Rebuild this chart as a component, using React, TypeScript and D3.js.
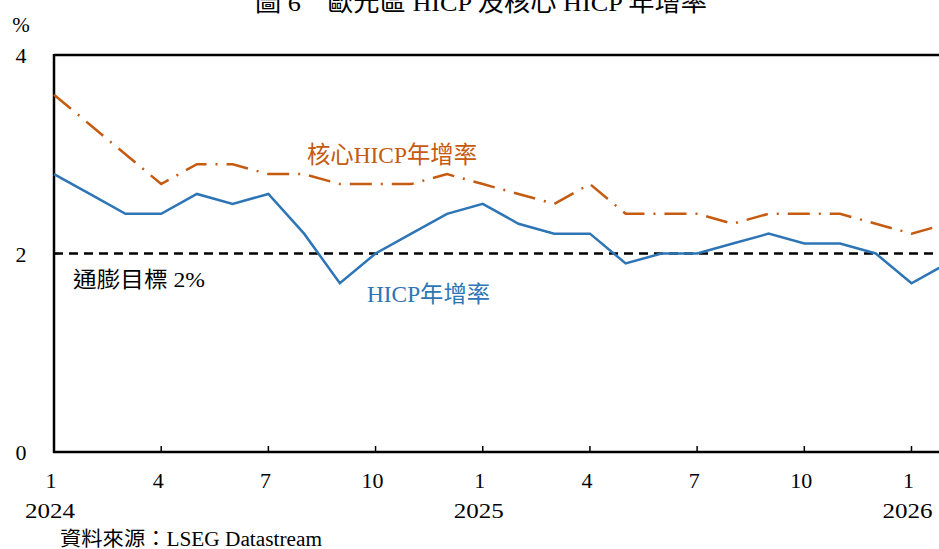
import React from "react";
import * as d3 from "d3";

const months = d3.range(0, 26);
const hicp = [2.8, 2.6, 2.4, 2.4, 2.6, 2.5, 2.6, 2.2, 1.7, 2.0, 2.2, 2.4, 2.5, 2.3, 2.2, 2.2, 1.9, 2.0, 2.0, 2.1, 2.2, 2.1, 2.1, 2.0, 1.7, 1.9];
const core = [3.6, 3.3, 3.0, 2.7, 2.9, 2.9, 2.8, 2.8, 2.7, 2.7, 2.7, 2.8, 2.7, 2.6, 2.5, 2.7, 2.4, 2.4, 2.4, 2.3, 2.4, 2.4, 2.4, 2.3, 2.2, 2.3];
const xTicks = [0, 3, 6, 9, 12, 15, 18, 21, 24];
const xTickLabels = ["1", "4", "7", "10", "1", "4", "7", "10", "1"];
const yearTicks = [0, 12, 24];
const yearLabels = ["2024", "2025", "2026"];
const yTicks = [0, 2, 4];
const target = 2;

const W = 939;
const H = 549;
const FONT = "'Liberation Serif', 'Times New Roman', 'Noto Sans CJK TC', serif";

export default function App() {
  const x = d3.scaleLinear().domain([0, 24]).range([54, 911.5]);
  const y = d3.scaleLinear().domain([0, 4]).range([452, 55]);
  const line = d3
    .line<number>()
    .x((_, i) => x(months[i]))
    .y((d) => y(d));

  return (
    <svg
      width={W}
      height={H}
      style={{ position: "absolute", left: 0, top: 0, background: "#fff" }}
      fontFamily={FONT}
    >
      <text x={255} y={11} fontSize={24} fill="#000" textLength={452} lengthAdjust="spacingAndGlyphs">
        圖 6　歐元區 HICP 及核心 HICP 年增率
      </text>
      <text x={21} y={32} textAnchor="middle" fontSize={21} fill="#000">%</text>

      {/* frame */}
      <line x1={x(0)} x2={W} y1={y(4)} y2={y(4)} stroke="#000" strokeWidth={2.5} />
      <line x1={x(0)} x2={x(0)} y1={y(4) - 1} y2={y(0) + 1} stroke="#000" strokeWidth={2.5} />
      <line x1={x(0) - 1} x2={W} y1={y(0)} y2={y(0)} stroke="#000" strokeWidth={2.5} />

      {yTicks.map((t) => (
        <g key={t}>
          <line x1={x(0)} x2={x(0) + 5} y1={y(t)} y2={y(t)} stroke="#000" strokeWidth={1.5} />
          <text x={21} y={y(t) + 8} textAnchor="middle" fontSize={22} fill="#000">{t}</text>
        </g>
      ))}

      {xTicks.map((t, i) => (
        <g key={t}>
          <line x1={x(t)} x2={x(t)} y1={y(0)} y2={y(0) - 6} stroke="#000" strokeWidth={1.5} />
          <text x={x(t) - 3} y={488} textAnchor="middle" fontSize={22} fill="#000">{xTickLabels[i]}</text>
        </g>
      ))}
      {yearTicks.map((t, i) => (
        <text key={t} x={x(t) - 4} y={518} textAnchor="middle" fontSize={22} fill="#000" textLength={50} lengthAdjust="spacingAndGlyphs">{yearLabels[i]}</text>
      ))}

      {/* target line */}
      <line x1={x(0)} x2={W} y1={y(target)} y2={y(target)} stroke="#000" strokeWidth={2.5} strokeDasharray="9 6" />

      <path d={line(core) || ""} fill="none" stroke="#c55a11" strokeWidth={2.5} strokeDasharray="22 9 2 9" />
      <path d={line(hicp) || ""} fill="none" stroke="#2e75b6" strokeWidth={2.5} />

      <text x={307} y={163} fontSize={24} fill="#c55a11" textLength={170} lengthAdjust="spacingAndGlyphs">核心HICP年增率</text>
      <text x={367} y={302} fontSize={23} fill="#2e75b6" textLength={123} lengthAdjust="spacingAndGlyphs">HICP年增率</text>
      <text x={73} y={287} fontSize={22} fill="#000" textLength={132} lengthAdjust="spacingAndGlyphs">通膨目標 2%</text>

      <text x={60} y={546} fontSize={20} fill="#000" textLength={262} lengthAdjust="spacingAndGlyphs">資料來源：LSEG Datastream</text>
    </svg>
  );
}
